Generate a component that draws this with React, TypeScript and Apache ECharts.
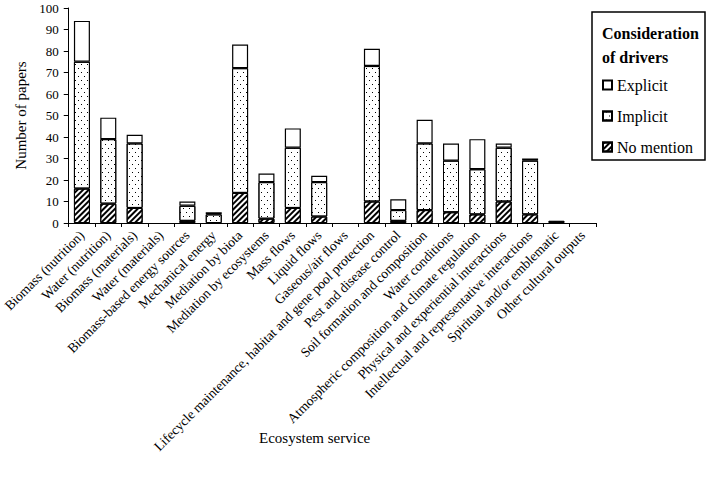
import React, { useEffect, useRef } from "react";
import * as echarts from "echarts";

const categories = [
  "Biomass (nutrition)",
  "Water (nutrition)",
  "Biomass (materials)",
  "Water (materials)",
  "Biomass-based energy sources",
  "Mechanical energy",
  "Mediation by biota",
  "Mediation by ecosystems",
  "Mass flows",
  "Liquid flows",
  "Gaseous/air flows",
  "Lifecycle maintenance, habitat and gene pool protection",
  "Pest and disease control",
  "Soil formation and composition",
  "Water conditions",
  "Atmospheric composition and climate regulation",
  "Physical and experiential interactions",
  "Intellectual and representative interactions",
  "Spiritual and/or emblematic",
  "Other cultural outputs",
];

const noMention = [16, 9, 7, 0, 1, 0, 14, 2, 7, 3, 0, 10, 1, 6, 5, 4, 10, 4, 1, 0];
const implicit = [59, 30, 30, 0, 7, 4, 58, 17, 28, 16, 0, 63, 5, 31, 24, 21, 25, 25, 0, 0];
const explicit = [19, 10, 4, 0, 2, 1, 11, 4, 9, 3, 0, 8, 5, 11, 8, 14, 2, 1, 0, 0];

const yTicks = { min: 0, max: 100, interval: 10 };

const FONT = "'Liberation Serif', 'Times New Roman', serif";

const hideZero = (arr: number[]) => arr.map((v) => (v === 0 ? "-" : v));

export default function App() {
  const ref = useRef<HTMLDivElement>(null);
  useEffect(() => {
    if (!ref.current) return;
    const chart = echarts.init(ref.current, null, { renderer: "svg" });
    const base = {
      type: "bar",
      stack: "total",
      barWidth: 16,
      emphasis: { disabled: true },
    };
    chart.setOption({
      animation: false,
      textStyle: { fontFamily: FONT, color: "#000" },
      grid: { left: 62, right: 113, top: 8, bottom: 255, containLabel: false },
      legend: {
        data: ["Explicit", "Implicit", "No mention"],
        orient: "vertical",
        left: 597,
        top: 72,
        itemWidth: 9,
        itemHeight: 9,
        itemGap: 15,
        icon: "rect",
        textStyle: { fontFamily: FONT, fontSize: 16, color: "#000" },
        selectedMode: false,
      },
      xAxis: {
        type: "category",
        data: categories,
        axisLine: { lineStyle: { color: "#000", width: 1 } },
        axisTick: { show: true, length: 4, lineStyle: { color: "#000" } },
        axisLabel: {
          interval: 0,
          rotate: 45,
          fontSize: 13.6,
          fontFamily: FONT,
          color: "#000",
          margin: 10,
        },
      },
      yAxis: {
        type: "value",
        min: yTicks.min,
        max: yTicks.max,
        interval: yTicks.interval,
        name: "Number of papers",
        nameLocation: "middle",
        nameGap: 40,
        nameTextStyle: { fontFamily: FONT, fontSize: 15, color: "#000" },
        axisLine: { show: true, lineStyle: { color: "#000", width: 1 } },
        axisTick: { show: true, length: 5, lineStyle: { color: "#000" } },
        axisLabel: { fontSize: 13, fontFamily: FONT, color: "#000", margin: 10 },
        splitLine: { show: false },
      },
      graphic: [
        {
          type: "rect",
          shape: { x: 592, y: 12, width: 113, height: 148 },
          style: { fill: "#fff", stroke: "#000", lineWidth: 1.5 },
          z: -1,
        },
        {
          type: "text",
          x: 602,
          y: 25,
          style: {
            text: "Consideration",
            font: `bold 16px ${FONT}`,
            fill: "#000",
          },
        },
        {
          type: "text",
          x: 602,
          y: 49,
          style: {
            text: "of drivers",
            font: `bold 16px ${FONT}`,
            fill: "#000",
          },
        },
        {
          type: "text",
          x: 259,
          y: 430,
          style: {
            text: "Ecosystem service",
            font: `15px ${FONT}`,
            fill: "#000",
          },
        },
      ],
      series: [
        {
          ...base,
          name: "No mention",
          data: hideZero(noMention),
          itemStyle: {
            color: "#fff",
            borderColor: "#000",
            borderWidth: 1,
            decal: {
              symbol: "rect",
              color: "#000",
              backgroundColor: "#fff",
              dashArrayX: [1, 0],
              dashArrayY: [2, 2],
              rotation: -Math.PI / 4,
              symbolSize: 1,
            },
          },
        },
        {
          ...base,
          name: "Implicit",
          data: hideZero(implicit),
          itemStyle: {
            color: "#fff",
            borderColor: "#000",
            borderWidth: 1,
            decal: {
              symbol: "rect",
              color: "#000",
              backgroundColor: "#fff",
              symbolSize: 1,
              dashArrayX: [
                [1, 5],
                [0, 3, 1, 2],
              ],
              dashArrayY: [1, 3],
              rotation: 0,
            },
          },
        },
        {
          ...base,
          name: "Explicit",
          data: hideZero(explicit),
          itemStyle: { color: "#fff", borderColor: "#000", borderWidth: 1.2 },
        },
      ],
    });
    return () => chart.dispose();
  }, []);
  return (
    <div
      ref={ref}
      style={{ position: "absolute", left: 0, top: 0, width: 709, height: 478 }}
    />
  );
}
